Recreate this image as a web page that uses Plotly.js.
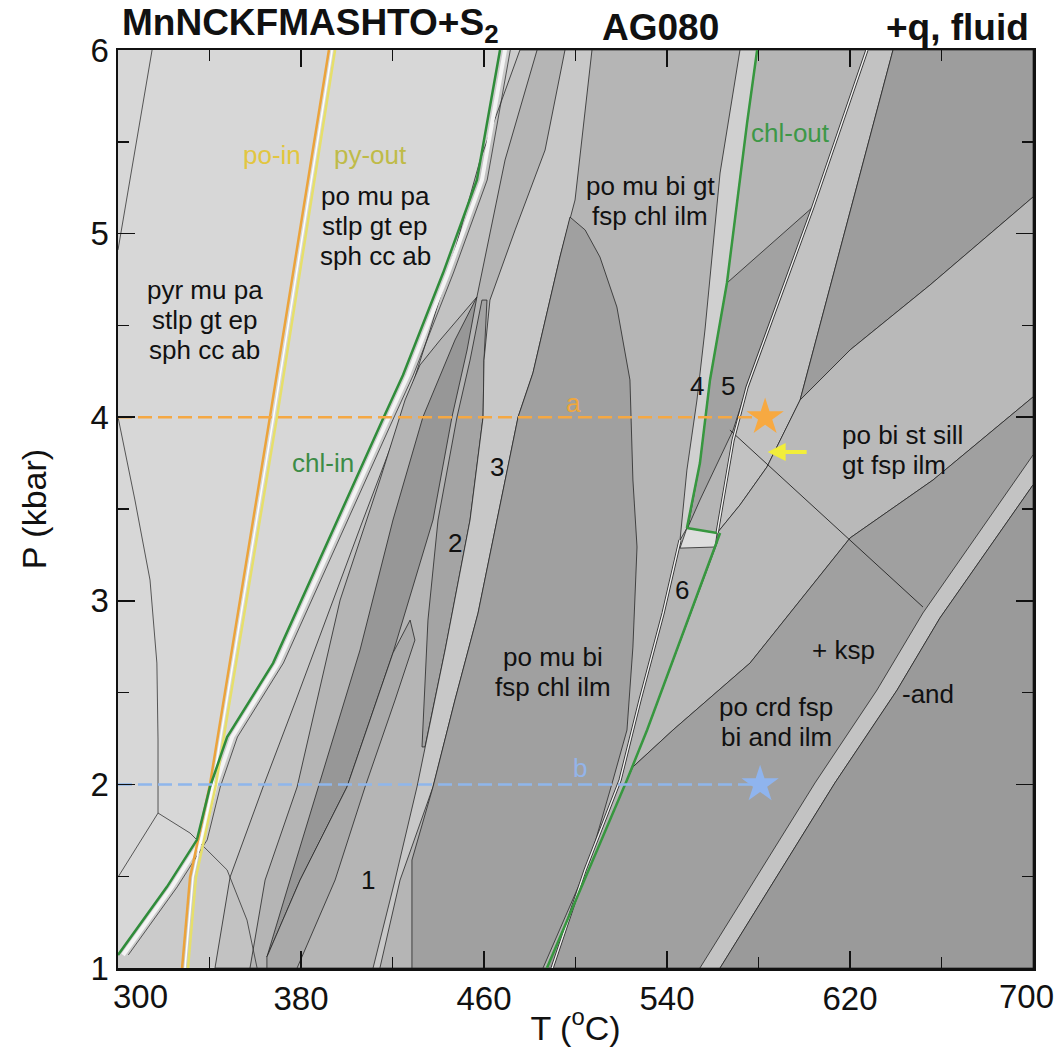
<!DOCTYPE html>
<html><head><meta charset="utf-8">
<script src="https://cdn.plot.ly/plotly-3.0.1.min.js"></script>
<style>html,body{margin:0;padding:0;background:#fff}#c{width:1057px;height:1057px}</style>
</head><body><div id="c"></div>
<script>
// ---- axis ranges and ticks ----
const tRange = [300, 700];
const pRange = [1, 6];
const tTicks = [300, 380, 460, 540, 620, 700];
const tTickText = ['', '380', '460', '540', '620', ''];
const tMinor = [340, 420, 500, 580, 660];

// ---- phase boundaries (T in °C, P in kbar) ----
const chlInT = [300, 321.4, 334.5, 340.2, 347.7, 367.8, 415.8, 424.6, 442.1, 456.9, 467.0];
const chlInP = [1.071, 1.442, 1.698, 1.986, 2.258, 2.661, 3.990, 4.230, 4.785, 5.292, 6.0];
const chlInWhiteT = [302.2, 323.6, 336.7, 342.4, 349.9, 370.0, 418.0, 426.8, 444.3, 459.1, 469.2];
const chlInEdgeT = [304.5, 325.9, 339.0, 344.7, 352.2, 372.3, 420.3, 429.1, 446.6, 461.4, 471.5];

const poInT = [328.0, 331.5, 340.2, 366.4, 392.2];
const poInP = [1.0, 1.495, 2.0, 4.0, 6.0];
const pyOutT = [330.6, 334.1, 342.8, 369.5, 394.9];
const pyOutP = [1.0, 1.495, 2.0, 4.0, 6.0];
const poPyGapT = [329.3, 332.8, 341.5, 368.0, 393.6];

const chlOutLowT = [487.5, 522.5, 531.3, 561.9, 563.2];
const chlOutLowP = [1.0, 2.024, 2.296, 3.315, 3.369];
const chlOutUpT = [548.7, 554.4, 558.8, 566.2, 575.0, 579.4];
const chlOutUpP = [3.396, 3.750, 4.203, 4.731, 5.602, 6.0];
const chlOutJoinT = [548.7, 561.9];
const chlOutJoinP = [3.396, 3.369];

// field boundary lines
const L1T = [475.7, 458.3, 447.3, 436.4, 424.2, 407.1, 377.8, 363.4, 349.0, 342.4];
const L1P = [6, 5.401, 4.911, 4.475, 4.001, 3.440, 2.459, 1.986, 1.495, 1.0];
const L2T = [483.2, 469.2, 456.9, 440.8, 432.0, 425.5, 414.5, 397.1, 378.3, 364.3, 357.7];
const L2P = [6, 5.401, 4.655, 4.420, 4.284, 4.094, 3.658, 3.004, 1.986, 1.479, 1.0];

const wedge2aT = [456.9, 447.3, 433.3, 420.2, 405.8, 387.4, 375.2, 365.1, 379.6, 400.1, 420.2, 437.7, 446.0, 452.6];
const wedge2aP = [4.655, 4.420, 4.001, 3.440, 2.732, 1.986, 1.479, 1.060, 1.479, 1.986, 2.716, 3.440, 4.001, 4.366];
const wedge1aT = [427.7, 420.2, 400.1, 379.6, 365.1, 365.1, 378.3, 394.9, 408.0, 421.1, 429.8];
const wedge1aP = [2.895, 2.716, 1.986, 1.479, 1.060, 1.0, 1.0, 1.479, 1.986, 2.459, 2.786];
const lens2T = [459.1, 453.9, 448.2, 439.9, 435.5, 432.9, 434.2, 443.0, 453.9, 459.6, 460.0, 461.3];
const lens2P = [4.638, 4.311, 4.001, 3.440, 2.895, 2.204, 2.204, 2.732, 3.440, 4.001, 4.311, 4.638];
const band3T = [495.4, 486.7, 473.6, 462.6, 460.0, 459.6, 453.9, 443.0, 430.7, 421.1, 411.5,
                414.5, 423.3, 437.7, 447.3, 457.4, 465.7, 474.9, 481.4, 493.2, 499.8, 507.2];
const band3P = [6, 5.455, 5.020, 4.638, 4.311, 4.001, 3.440, 2.732, 1.986, 1.479, 1.0,
                1.0, 1.479, 1.986, 2.459, 2.933, 3.440, 4.001, 4.241, 4.872, 5.183, 6];
const fieldMT = [497.6, 493.2, 481.4, 474.9, 465.7, 457.4, 447.3, 437.7, 428.5, 428.5, 485.8, 497.6,
                 506.3, 516.4, 522.5, 525.1, 526.9, 525.1, 523.8, 518.1, 510.7, 504.2];
const fieldMP = [5.090, 4.872, 4.241, 4.001, 3.440, 2.933, 2.459, 1.986, 1.588, 1.0, 1.0, 1.343,
                 1.588, 2.024, 2.296, 2.748, 3.293, 3.658, 4.203, 4.600, 4.872, 5.020];
const chlStripT = [571.9, 563.2, 556.6, 553.1, 548.7, 545.7, 548.7, 554.4, 558.8, 566.2, 575.0, 579.4];
const chlStripP = [6, 5.330, 4.475, 4.094, 3.712, 3.331, 3.396, 3.750, 4.203, 4.731, 5.602, 6];
const field5T = [566.2, 603.8, 575.0, 568.9, 554.4, 549.2, 554.4, 558.8];
const field5P = [4.731, 5.145, 4.164, 3.930, 3.549, 3.402, 3.750, 4.203];
const lightBandT = [627.4, 638.8, 598.2, 583.7, 571.9, 561.9, 568.9, 575.0, 603.8];
const lightBandP = [6, 6, 4.094, 3.729, 3.522, 3.369, 3.876, 4.164, 5.145];
const upperDarkT = [638.8, 700, 700, 655.0, 620.0, 598.2];
const upperDarkP = [6, 6, 5.199, 4.720, 4.366, 4.094];
const sillT = [561.9, 571.9, 583.7, 598.2, 620.0, 655.0, 700, 700, 656.3, 620.0, 576.3, 542.6, 525.1, 522.5, 531.3, 561.9];
const sillP = [3.369, 3.522, 3.729, 4.094, 4.366, 4.720, 5.199, 4.110, 3.658, 3.342, 2.661, 2.296, 2.095, 2.024, 2.296, 3.315];
const crdT = [522.5, 525.1, 542.6, 576.3, 620.0, 656.3, 700, 700, 487.6, 505.0];
const crdP = [2.024, 2.095, 2.296, 2.661, 3.342, 3.658, 4.110, 1.0, 1.0, 1.507];
const andBandT = [554.4, 604.7, 631.8, 651.9, 700, 700, 659.3, 640.6, 613.4, 563.2];
const andBandP = [1.0, 2.008, 2.514, 2.934, 3.794, 3.631, 2.906, 2.514, 2.008, 1.0];
const kspT = [563.2, 613.4, 640.6, 659.3, 700, 700];
const kspP = [1.0, 2.008, 2.514, 2.906, 3.631, 1.0];
const quadT = [548.7, 561.9, 561.0, 545.7];
const quadP = [3.396, 3.369, 3.293, 3.287];

// thin lines
const diagT = [567.5, 651.9];
const diagP = [3.930, 2.966];
const leftLine1T = [314.9, 300];
const leftLine1P = [6, 4.911];
const leftLine2T = [300, 307.4, 314.0, 317.0, 317.5, 317.5];
const leftLine2P = [4.001, 3.549, 3.113, 2.661, 2.242, 1.844];
const leftLine3T = [317.5, 300];
const leftLine3P = [1.844, 1.495];
const domeT = [317.5, 331.5, 347.7, 356.4, 360.8];
const domeP = [1.844, 1.735, 1.534, 1.261, 1.0];
const dblLowT = [545.7, 538.3, 528.2, 519.5, 504.2, 489.8];
const dblLowP = [3.331, 2.933, 2.459, 2.024, 1.534, 1.0];
const dblUpT = [627.4, 603.8, 575.0, 568.9, 561.9];
const dblUpP = [6, 5.145, 4.164, 3.876, 3.369];

// P–T paths and end points
const pathA_T = [300, 582.9], pathA_P = [4, 4];
const pathB_T = [300, 580.7], pathB_P = [2, 2];

// field labels
const labels = [
  {t: 338.0, p: 4.53, s: 'pyr mu pa<br>stlp gt ep<br>sph cc ab'},
  {t: 412.4, p: 5.04, s: 'po mu pa<br>stlp gt ep<br>sph cc ab'},
  {t: 532.6, p: 5.18, s: 'po mu bi gt<br>fsp chl ilm'},
  {t: 615.6, p: 3.82, s: 'po bi st sill<br>gt fsp ilm', a: 'left'},
  {t: 490.2, p: 2.61, s: 'po mu bi<br>fsp chl ilm'},
  {t: 587.7, p: 2.34, s: 'po crd fsp<br>bi and ilm'},
  {t: 617.0, p: 2.73, s: '+ ksp'},
  {t: 654.1, p: 2.49, s: '-and'},
  {t: 409.3, p: 1.48, s: '1'},
  {t: 447.3, p: 3.315, s: '2'},
  {t: 465.7, p: 3.73, s: '3'},
  {t: 553.1, p: 4.17, s: '4'},
  {t: 566.7, p: 4.17, s: '5'},
  {t: 546.6, p: 3.06, s: '6'}
];

const FONT = 'Liberation Sans, Arial, sans-serif';
const traces = [];
function poly(T, P, color, lw) {
  traces.push({type: 'scatter', mode: 'lines', x: T.concat([T[0]]), y: P.concat([P[0]]),
    fill: 'toself', fillcolor: color, line: {color: '#262626', width: lw === undefined ? 0.8 : lw},
    hoverinfo: 'skip', showlegend: false});
}
function line(T, P, color, w, dash) {
  traces.push({type: 'scatter', mode: 'lines', x: T, y: P,
    line: {color: color, width: w, dash: dash || 'solid'}, hoverinfo: 'skip', showlegend: false});
}

poly(chlInT.concat([tRange[1], tRange[1], tRange[0]]), chlInP.concat([pRange[1], pRange[0], pRange[0]]), '#cbcbcb', 0);
poly(L1T.concat([tRange[1], tRange[1]]), L1P.concat([pRange[0], pRange[1]]), '#c2c2c2');
poly(L2T.concat([tRange[1], tRange[1]]), L2P.concat([pRange[0], pRange[1]]), '#b5b5b5');
poly(wedge2aT, wedge2aP, '#979797');
poly(wedge1aT, wedge1aP, '#a9a9a9');
poly(lens2T, lens2P, '#a4a4a4');
poly(band3T, band3P, '#c8c8c8');
poly(fieldMT, fieldMP, '#a0a0a0');
poly(chlStripT, chlStripP, '#d0d0d0');
poly(field5T, field5P, '#a2a2a2');
poly(lightBandT, lightBandP, '#c2c2c2');
poly(upperDarkT, upperDarkP, '#9d9d9d');
poly(sillT, sillP, '#b9b9b9');
poly(crdT, crdP, '#a0a0a0');
poly(andBandT, andBandP, '#c3c3c3');
poly(kspT, kspP, '#9a9a9a');
poly(quadT, quadP, '#dedede');

line(leftLine1T, leftLine1P, '#333', 0.8);
line(leftLine2T, leftLine2P, '#333', 0.8);
line(leftLine3T, leftLine3P, '#333', 0.8);
line(domeT, domeP, '#333', 0.8);
line(diagT, diagP, '#222', 0.9);
line(dblLowT, dblLowP, '#333', 3.2);
line(dblLowT, dblLowP, '#f2f2f2', 1.4);
line(dblUpT, dblUpP, '#333', 3.2);
line(dblUpT, dblUpP, '#f2f2f2', 1.4);
line(chlInWhiteT, chlInP, '#f4f4f4', 4);
line(chlInEdgeT, chlInP, '#333', 0.8);

// po-in / py-out
line(poInT, poInP, '#eba33b', 2.5);
line(pyOutT, pyOutP, '#e6df6a', 2.5);
line(poPyGapT, poInP, '#ffffff', 1.6);

// chl-in / chl-out
line(chlInT, chlInP, '#2f8c3a', 2.5);
line(chlOutLowT, chlOutLowP, '#37973f', 2.5);
line(chlOutUpT, chlOutUpP, '#37973f', 2.5);
line(chlOutJoinT, chlOutJoinP, '#37973f', 2.5);

// P-T paths
line(pathA_T, pathA_P, '#f5a843', 2.5, '14px,6px');
line(pathB_T, pathB_P, '#8fb6ec', 2.5, '14px,6px');
traces.push({type: 'scatter', mode: 'markers', x: [pathA_T[1]], y: [pathA_P[1]],
  marker: {symbol: 'star', size: 28, color: '#f7a941', line: {width: 0}}, hoverinfo: 'skip', showlegend: false});
traces.push({type: 'scatter', mode: 'markers', x: [pathB_T[1]], y: [pathB_P[1]],
  marker: {symbol: 'star', size: 28, color: '#8fb4ee', line: {width: 0}}, hoverinfo: 'skip', showlegend: false});

const LABEL_SIZE = 26, LINE_GAP = 30;
const ann = [];
labels.forEach(l => {
  const rows = l.s.split('<br>');
  rows.forEach((r, i) => {
    ann.push({x: l.t, y: l.p, xref: 'x', yref: 'y', text: r, showarrow: false,
      xanchor: l.a || 'center', yshift: ((rows.length - 1) / 2 - i) * LINE_GAP,
      font: {family: FONT, size: LABEL_SIZE, color: '#111'}});
  });
});
ann.push({x: 367.3, y: 5.43, xref: 'x', yref: 'y', text: 'po-in', showarrow: false, font: {family: FONT, size: LABEL_SIZE, color: '#e2c640'}});
ann.push({x: 410.2, y: 5.43, xref: 'x', yref: 'y', text: 'py-out', showarrow: false, font: {family: FONT, size: LABEL_SIZE, color: '#bfbb48'}});
ann.push({x: 389.6, y: 3.75, xref: 'x', yref: 'y', text: 'chl-in', showarrow: false, font: {family: FONT, size: LABEL_SIZE, color: '#3c8c46'}});
ann.push({x: 593.8, y: 5.55, xref: 'x', yref: 'y', text: 'chl-out', showarrow: false, font: {family: FONT, size: LABEL_SIZE, color: '#3d9847'}});
ann.push({x: 499.0, y: 4.08, xref: 'x', yref: 'y', text: 'a', showarrow: false, font: {family: FONT, size: LABEL_SIZE, color: '#f0a73c'}});
ann.push({x: 502.0, y: 2.09, xref: 'x', yref: 'y', text: 'b', showarrow: false, font: {family: FONT, size: LABEL_SIZE, color: '#93b4ea'}});
// yellow arrow
ann.push({x: 584.0, y: 3.81, xref: 'x', yref: 'y', ax: 42, ay: 0, text: ' ', showarrow: true,
  arrowhead: 2, arrowsize: 0.9, arrowwidth: 4, arrowcolor: '#f2ee3a'});
// end x tick labels, set off from the corners as in the figure
ann.push({x: tTicks[0], y: 0, xref: 'x', yref: 'paper', xshift: 22, yshift: -8, yanchor: 'top', text: String(tTicks[0]),
  showarrow: false, font: {family: FONT, size: 33, color: '#111'}});
ann.push({x: tTicks[tTicks.length - 1], y: 0, xref: 'x', yref: 'paper', xshift: -7, yshift: -8, yanchor: 'top',
  text: String(tTicks[tTicks.length - 1]), showarrow: false, font: {family: FONT, size: 33, color: '#111'}});
// header
ann.push({x: 0.002, y: 1.0, xref: 'paper', yref: 'paper', xanchor: 'left', yanchor: 'bottom', showarrow: false,
  text: '<b>MnNCKFMASHTO+S<sub>2</sub></b>', font: {family: FONT, size: 37, color: '#111'}});
ann.push({x: 0.593, y: 1.0, xref: 'paper', yref: 'paper', xanchor: 'center', yanchor: 'bottom', showarrow: false,
  text: '<b>AG080</b>', font: {family: FONT, size: 37, color: '#111'}});
ann.push({x: 0.998, y: 1.0, xref: 'paper', yref: 'paper', xanchor: 'right', yanchor: 'bottom', showarrow: false,
  text: '<b>+q, fluid</b>', font: {family: FONT, size: 37, color: '#111'}});

const axisCommon = {showgrid: false, zeroline: false, showline: true, linewidth: 2.5, linecolor: '#111',
  ticks: 'inside', ticklen: 17, tickwidth: 1.6, tickcolor: '#111', mirror: 'ticks',
  tickfont: {family: FONT, size: 33, color: '#111'}};

const layout = {
  width: 1057, height: 1057,
  margin: {l: 118, r: 24, t: 50, b: 89},
  paper_bgcolor: '#ffffff', plot_bgcolor: '#d7d7d7',
  showlegend: false,
  xaxis: Object.assign({}, axisCommon, {range: tRange, tickmode: 'array', tickvals: tTicks, ticktext: tTickText,
    minor: {tickmode: 'array', tickvals: tMinor, ticklen: 11, tickwidth: 1.4, tickcolor: '#111', ticks: 'inside'},
    title: {text: 'T (<sup>o</sup>C)', font: {family: FONT, size: 34, color: '#111'}, standoff: 0}}),
  yaxis: Object.assign({}, axisCommon, {range: pRange, tick0: 1, dtick: 1,
    minor: {dtick: 0.5, ticklen: 11, tickwidth: 1.4, tickcolor: '#111', ticks: 'inside'},
    title: {text: 'P (kbar)', font: {family: FONT, size: 34, color: '#111'}, standoff: 34}}),
  annotations: ann
};

Plotly.newPlot('c', traces, layout, {staticPlot: true, displayModeBar: false});
</script>
</body></html>
